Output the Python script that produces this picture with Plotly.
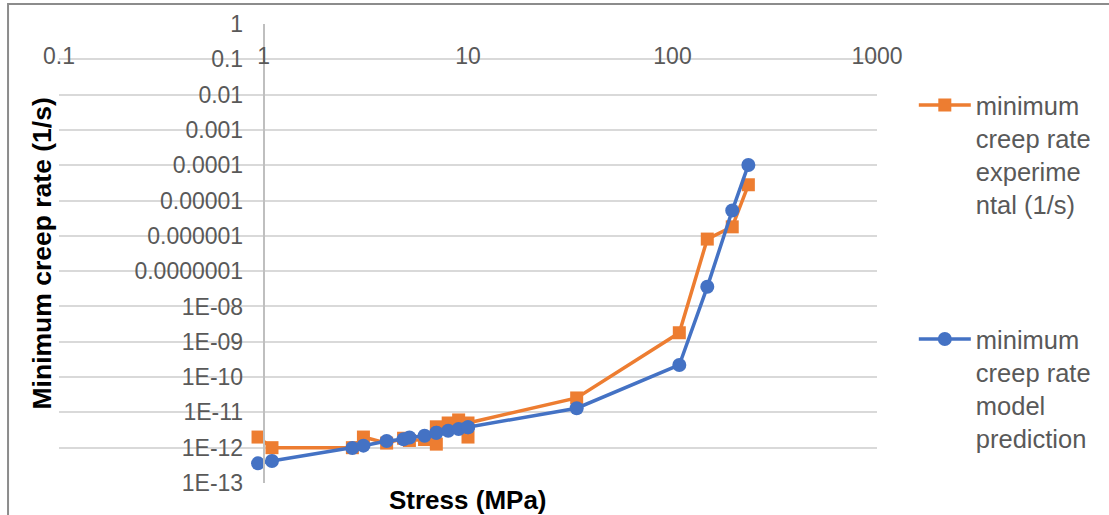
import plotly.graph_objects as go

# Applied stress levels (MPa); repeated tests share a stress value
stress = [0.94, 1.1, 2.72, 3.08, 4.0, 4.84, 5.17, 6.13, 7.0, 7.0, 8.0, 9.0,
          10.0, 10.0, 34.0, 108.0, 148.0, 196.0, 235.0]

# Measured minimum creep rate (1/s)
rate_experimental = [2.0e-12, 1.0e-12, 1.0e-12, 2.0e-12, 1.35e-12, 1.85e-12, 1.6e-12,
                     1.7e-12, 1.26e-12, 3.9e-12, 5.0e-12, 6.1e-12, 2.0e-12, 5.0e-12,
                     2.56e-11, 1.8e-09, 8.1e-07, 1.8e-06, 2.8e-05]

# Model-predicted minimum creep rate (1/s)
rate_model = [3.6e-13, 4.2e-13, 9.8e-13, 1.14e-12, 1.55e-12, 1.74e-12, 1.95e-12,
              2.18e-12, 2.66e-12, 2.66e-12, 3.03e-12, 3.39e-12, 3.8e-12, 3.8e-12,
              1.31e-11, 2.2e-10, 3.6e-08, 5.2e-06, 1.02e-04]

x_tickvals = [0.1, 1, 10, 100, 1000]
x_ticktext = ["0.1", "1", "10", "100", "1000"]
y_tickvals = [10.0 ** -k for k in range(0, 14)]
y_ticktext = ["1", "0.1", "0.01", "0.001", "0.0001", "0.00001", "0.000001",
              "0.0000001", "1E-08", "1E-09", "1E-10", "1E-11", "1E-12", "1E-13"]

name_exp = "minimum<br>creep rate<br>experime<br>ntal (1/s)"
name_model = "minimum<br>creep rate<br>model<br>prediction"

ORANGE = "#ED7D31"
BLUE = "#4472C4"
FONT = "Arial, Liberation Sans, sans-serif"

fig = go.Figure()
fig.add_trace(go.Scatter(
    x=stress, y=rate_experimental, name=name_exp, mode="lines+markers",
    line=dict(color=ORANGE, width=3.5),
    marker=dict(symbol="square", size=13, color=ORANGE),
    legend="legend",
))
fig.add_trace(go.Scatter(
    x=stress, y=rate_model, name=name_model, mode="lines+markers",
    line=dict(color=BLUE, width=3.5),
    marker=dict(symbol="circle", size=14, color=BLUE),
    legend="legend2",
))

legend_style = dict(
    font=dict(family=FONT, size=25.5, color="#595959"),
    bgcolor="rgba(0,0,0,0)", valign="top", itemwidth=52,
    xanchor="left", yanchor="top",
)

fig.update_layout(
    width=1109, height=515,
    margin=dict(l=59, r=232, t=24, b=32),
    paper_bgcolor="white", plot_bgcolor="white",
    font=dict(family=FONT, color="#595959"),
    xaxis=dict(
        type="log", range=[-1.0002, 3.0002], side="top",
        anchor="free", position=0.902,
        tickvals=x_tickvals, ticktext=x_ticktext,
        tickfont=dict(size=23, color="#595959"),
        showgrid=False, zeroline=False, showline=False, ticks="",
    ),
    yaxis=dict(
        type="log", range=[-13.0005, 0.0005],
        tickvals=y_tickvals, ticktext=y_ticktext,
        anchor="free", position=0.25,
        tickfont=dict(size=23, color="#595959"),
        showgrid=True, gridcolor="#D9D9D9", gridwidth=1.5,
        showline=True, linecolor="#BFBFBF", linewidth=1.5,
        ticks="", ticklabelstandoff=15, zeroline=False,
    ),
    legend=dict(x=1.045, y=0.874, **legend_style),
    legend2=dict(x=1.045, y=0.364, **legend_style),
    showlegend=True,
    annotations=[
        dict(text="<b>Minimum creep rate (1/s)</b>", textangle=-90,
             xref="paper", yref="paper", x=-0.0208, y=0.5,
             xanchor="center", yanchor="middle", showarrow=False,
             font=dict(family=FONT, size=26.5, color="#000000")),
        dict(text="<b>Stress (MPa)</b>",
             xref="paper", yref="paper", x=0.5, y=-0.037,
             xanchor="center", yanchor="middle", showarrow=False,
             font=dict(family=FONT, size=26, color="#000000")),
    ],
    shapes=[
        dict(type="rect", xref="paper", yref="paper",
             x0=-0.0623, x1=1.35, y0=-0.15, y1=1.0436,
             line=dict(color="#8C8C8C", width=2), layer="below"),
    ],
)

fig.write_html("out.html")
